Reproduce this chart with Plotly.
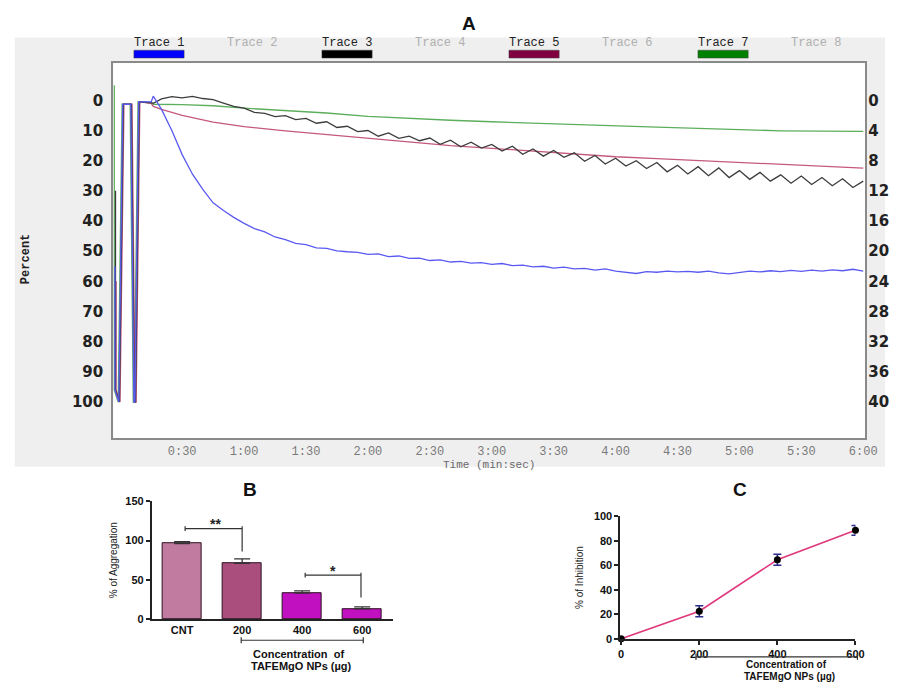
import plotly.graph_objects as go

W, H = 897, 688


def px(x):
    return x / W


def py(y):
    return 1 - y / H


# ---------------- Panel A data ----------------
time_ticks = [30, 60, 90, 120, 150, 180, 210, 240, 270, 300, 330, 360]
time_labels = ["0:30", "1:00", "1:30", "2:00", "2:30", "3:00", "3:30", "4:00",
               "4:30", "5:00", "5:30", "6:00"]
pct_ticks = [0, 10, 20, 30, 40, 50, 60, 70, 80, 90, 100]
right_ticks = [0, 4, 8, 12, 16, 20, 24, 28, 32, 36, 40]
legend_names = ["Trace 1", "Trace 2", "Trace 3", "Trace 4",
                "Trace 5", "Trace 6", "Trace 7", "Trace 8"]
legend_active = [True, False, True, False, True, False, True, False]

# initial calibration spikes (seconds, percent)
blue_spike_t = [-2.6, -2.6, -0.7, 1.2, 5.1, 6.6, 7.1, 8.9, 15.0]
blue_spike_v = [55, 96, 100, 1.3, 1.3, 100, 100, 0.5, 0.5]
black_spike_t = [-2.3, -2.3, -0.4, 1.5, 5.4, 6.9, 7.4, 9.2, 15.0]
black_spike_v = [30, 96, 100, 1.3, 1.3, 100, 100, 0.5, 0.8]
maroon_spike_t = [-2.0, -2.0, -0.1, 1.8, 5.7, 7.2, 7.7, 9.5, 15.0]
maroon_spike_v = [60, 96, 100, 1.3, 1.3, 100, 100, 0.5, 1.0]
green_spike_t = [-2.9, -2.9, -1.0, 0.9, 4.8, 6.3, 6.8, 8.6, 15.0]
green_spike_v = [-5, 96, 100, 1.3, 1.3, 100, 100, 0.5, 0.8]

trace_t = [16, 20, 25, 30, 35, 40, 45, 50, 55, 60, 65, 70, 75, 80, 85, 90, 95,
           100, 105, 110, 115, 120, 125, 130, 135, 140, 145, 150, 155, 160,
           165, 170, 175, 180, 185, 190, 195, 200, 205, 210, 215, 220, 225,
           230, 235, 240, 245, 250, 255, 260, 265, 270, 275, 280, 285, 290,
           295, 300, 305, 310, 315, 320, 325, 330, 335, 340, 345, 350, 355, 360]
blue_v = [-1.4, 3, 10, 18, 24.5, 29.5, 34, 36.5, 38.8, 40.8, 42.5, 43.6, 45.3,
          46.2, 47.4, 47.8, 48.9, 49.1, 49.9, 50.2, 50.4, 51.1, 50.9, 51.8,
          51.6, 52.4, 52.3, 53.1, 52.9, 53.6, 53.4, 54.0, 53.8, 54.4, 54.1,
          54.8, 54.6, 55.2, 55.0, 55.6, 55.3, 55.9, 55.7, 56.3, 55.9, 56.6,
          57.1, 57.4, 56.8, 57.0, 56.6, 56.9, 56.7, 57.0, 56.6, 57.2, 57.5,
          57.0, 56.6, 56.9, 56.5, 56.8, 56.4, 56.7, 56.3, 56.6, 56.2, 56.5,
          56.0, 56.6]
black_v = [1.0, -0.5, -1.2, -0.8, -1.3, -0.6, -0.2, 0.9, 2.0, 2.6, 4.0, 4.3,
           5.4, 5.1, 6.4, 6.0, 7.6, 7.1, 9.0, 8.6, 10.4, 10.0, 11.9, 10.8,
           12.6, 11.9, 13.4, 12.5, 14.6, 13.2, 15.4, 13.9, 15.8, 14.6, 16.8,
           15.2, 17.9, 16.1, 18.5, 16.6, 18.9, 17.4, 20.2, 18.3, 21.1, 19.2,
           21.8, 20.0, 22.6, 20.6, 23.7, 21.5, 24.4, 22.0, 25.0, 22.4, 25.6,
           23.3, 26.2, 23.9, 26.8, 24.7, 27.5, 25.1, 27.9, 25.6, 28.3, 26.0,
           28.9, 26.8]
maroon_t = [16, 20, 30, 45, 60, 80, 100, 120, 140, 160, 180, 200, 220, 240,
            260, 280, 300, 320, 340, 360]
maroon_v = [2.0, 3.0, 5.0, 7.2, 8.7, 10.1, 11.3, 12.6, 13.9, 15.0, 15.9, 16.9,
            17.8, 18.7, 19.3, 19.9, 20.6, 21.1, 21.7, 22.5]
green_t = [16, 30, 45, 60, 80, 100, 120, 140, 160, 180, 200, 220, 240, 260,
           280, 300, 320, 340, 360]
green_v = [1.3, 1.4, 1.8, 2.6, 3.4, 4.2, 5.3, 6.0, 6.6, 7.1, 7.6, 8.1, 8.6,
           8.9, 9.3, 9.8, 10.1, 10.2, 10.3]

# ---------------- Panel B data ----------------
b_categories = ["CNT", "200", "400", "600"]
b_values = [96, 71, 33, 13]
b_errors = [2.5, 5.7, 3, 2.5]
b_colors = ["#c27ba0", "#aa4f7d", "#c010c0", "#c010c0"]
b_ticks = [0, 50, 100, 150]

# ---------------- Panel C data ----------------
c_conc = [0, 200, 400, 600]
c_inhib = [0, 22.5, 64.5, 88.5]
c_errors = [0, 4.5, 4.5, 4]
c_ticks = [0, 20, 40, 60, 80, 100]

fig = go.Figure()

LW = 1.3
fig.add_trace(go.Scatter(x=green_spike_t + green_t, y=green_spike_v + green_v,
                         mode="lines", line=dict(color="#5cae5c", width=LW),
                         xaxis="x", yaxis="y", showlegend=False))
fig.add_trace(go.Scatter(x=maroon_spike_t + maroon_t, y=maroon_spike_v + maroon_v,
                         mode="lines", line=dict(color="#c4587e", width=LW),
                         xaxis="x", yaxis="y", showlegend=False))
fig.add_trace(go.Scatter(x=black_spike_t + trace_t, y=black_spike_v + black_v,
                         mode="lines", line=dict(color="#3c3c3c", width=LW),
                         xaxis="x", yaxis="y", showlegend=False))
fig.add_trace(go.Scatter(x=blue_spike_t + trace_t, y=blue_spike_v + blue_v,
                         mode="lines", line=dict(color="#5a5af2", width=LW),
                         xaxis="x", yaxis="y", showlegend=False))
# anchor trace for the right-hand axis
fig.add_trace(go.Scatter(x=[None], y=[None], mode="lines", xaxis="x", yaxis="y4",
                         showlegend=False, hoverinfo="skip"))

# Panel B bars
fig.add_trace(go.Bar(x=list(range(len(b_categories))), y=b_values, width=0.66,
                     marker=dict(color=b_colors, line=dict(color="#2a1020", width=1)),
                     error_y=dict(type="data", array=b_errors,
                                  arrayminus=[0] * len(b_errors), symmetric=False,
                                  color="#333333", thickness=1.3, width=8),
                     xaxis="x2", yaxis="y2", showlegend=False))

# Panel C line
fig.add_trace(go.Scatter(x=c_conc, y=c_inhib, mode="lines+markers",
                         line=dict(color="#e0387c", width=1.6),
                         marker=dict(color="black", size=7, symbol="circle"),
                         error_y=dict(type="data", array=c_errors, color="#2b2b8c",
                                      thickness=1.6, width=4),
                         cliponaxis=False, xaxis="x3", yaxis="y3", showlegend=False))

shapes = []
# grey instrument panel
shapes.append(dict(type="rect", xref="paper", yref="paper", x0=px(13), x1=px(897),
                   y0=py(469), y1=py(32), fillcolor="#efefef", line=dict(width=0),
                   layer="below"))
shapes.append(dict(type="rect", xref="paper", yref="paper", x0=px(113), x1=px(877),
                   y0=py(440), y1=py(58), fillcolor="white", line=dict(width=0),
                   layer="below"))
# legend swatches
legend_colors = ["#0000ff", None, "#000000", None, "#800040", None, "#008000", None]
legend_x = [134, 229, 325, 420, 515, 610, 707, 802]
for lx, col in zip(legend_x, legend_colors):
    if col:
        shapes.append(dict(type="rect", xref="paper", yref="paper", x0=px(lx),
                           x1=px(lx + 51), y0=py(53), y1=py(45), fillcolor=col,
                           line=dict(color="#444", width=0.5)))


# significance brackets for B
def bracket_b(x0, x1, yl, ytick_lo, ytick_hi, ydrop):
    s = []
    s.append(dict(type="line", xref="x2", yref="y2", x0=x0, x1=x1, y0=yl, y1=yl,
                  line=dict(color="#333", width=1.2)))
    s.append(dict(type="line", xref="x2", yref="y2", x0=x0, x1=x0, y0=ytick_lo,
                  y1=ytick_hi, line=dict(color="#333", width=1.2)))
    s.append(dict(type="line", xref="x2", yref="y2", x0=x1, x1=x1, y0=ytick_hi,
                  y1=ydrop, line=dict(color="#333", width=1.2)))
    return s


shapes += bracket_b(0.05, 1.0, 115, 112, 118, 86)
shapes += bracket_b(2.05, 2.98, 56, 53, 59, 27.5)


# concentration range brackets (paper pixel coords)
def hbracket(x0, x1, y):
    s = [dict(type="line", xref="paper", yref="paper", x0=px(x0), x1=px(x1),
              y0=py(y), y1=py(y), line=dict(color="#333", width=1.2))]
    for xx in (x0, x1):
        s.append(dict(type="line", xref="paper", yref="paper", x0=px(xx), x1=px(xx),
                      y0=py(y - 3), y1=py(y + 3), line=dict(color="#333", width=1.2)))
    return s


shapes += hbracket(243, 367, 645.5)
shapes += hbracket(705, 869, 662.5)

ann = []


def text(x, y, t, size, color="#111", family="Liberation Sans", weight="bold",
         angle=0, xanchor="center"):
    ann.append(dict(x=px(x), y=py(y), xref="paper", yref="paper", text=t,
                    showarrow=False, xanchor=xanchor, yanchor="middle",
                    textangle=angle,
                    font=dict(size=size, color=color, family=family, weight=weight)))


text(474, 18, "A", 19)
text(252, 492, "B", 19)
text(750, 492, "C", 19)
for lx, name, act in zip(legend_x, legend_names, legend_active):
    text(lx + 25, 38, name, 12, color="#222" if act else "#b0b0b0",
         family="Liberation Mono", weight="normal")
text(24, 258, "Percent", 12, color="#222", family="Liberation Mono", angle=-90)
text(495, 467, "Time (min:sec)", 11, color="#6a6a6a", family="Liberation Mono",
     weight="normal")
# stars
ann.append(dict(x=0.55, y=121, xref="x2", yref="y2", text="**", showarrow=False,
                font=dict(size=14, color="#222", family="Liberation Sans", weight="bold")))
ann.append(dict(x=2.52, y=61, xref="x2", yref="y2", text="*", showarrow=False,
                font=dict(size=14, color="#222", family="Liberation Sans", weight="bold")))
text(301, 659, "Concentration  of", 11)
text(304, 672, "TAFEMgO NPs (µg)", 11)
text(797, 670, "Concentration of", 10)
text(800, 682, "TAFEMgO NPs (µg)", 10)

axis_bold = dict(family="Liberation Sans", size=11, color="#111", weight="bold")

fig.update_layout(
    width=W, height=H, margin=dict(l=0, r=0, t=0, b=0),
    paper_bgcolor="white", plot_bgcolor="rgba(0,0,0,0)",
    shapes=shapes, annotations=ann, bargap=0,
    xaxis=dict(domain=[px(113), px(877)], range=[-3.4, 361], anchor="y",
               tickvals=time_ticks, ticktext=time_labels, ticks="",
               showgrid=False, zeroline=False, showline=True, mirror=True,
               linecolor="#8a8a8a", linewidth=2, ticklabelstandoff=0,
               tickfont=dict(family="Liberation Mono", size=12, color="#7a7a7a")),
    yaxis=dict(domain=[py(440), py(58)], range=[112.05, -12.38], anchor="x",
               tickvals=pct_ticks, ticks="", showgrid=False, zeroline=False,
               showline=True, mirror=True, linecolor="#8a8a8a", linewidth=2,
               ticklabelstandoff=5,
               tickfont=dict(family="DejaVu Sans", size=15, color="#222",
                             weight="bold")),
    yaxis4=dict(overlaying="y", side="right", anchor="x",
                range=[112.05 * 0.4, -12.38 * 0.4], tickvals=right_ticks,
                ticks="", showgrid=False, zeroline=False, showline=False,
                ticklabelstandoff=2,
                tickfont=dict(family="DejaVu Sans", size=15, color="#222",
                              weight="bold")),
    xaxis2=dict(domain=[px(152), px(397)], range=[-0.508, 3.51], anchor="y2",
                tickvals=[0, 1, 2, 3], ticktext=b_categories, ticks="",
                showgrid=False, zeroline=False, showline=True, linecolor="#222",
                linewidth=1.5, tickfont=axis_bold),
    yaxis2=dict(domain=[py(624), py(504)], range=[0, 150], anchor="x2",
                tickvals=b_ticks, ticks="outside", ticklen=4, tickwidth=1.5,
                tickcolor="#222", showgrid=False, zeroline=False, showline=True,
                linecolor="#222", linewidth=1.5, tickfont=axis_bold,
                title=dict(text="% of Aggregation", standoff=6,
                           font=dict(family="Liberation Sans", size=10, color="#222"))),
    xaxis3=dict(domain=[px(628), px(867)], range=[-2.5, 600], anchor="y3",
                tickvals=c_conc, ticks="outside", ticklen=4, tickwidth=1.5,
                tickcolor="#222", showgrid=False, zeroline=False, showline=True,
                linecolor="#222", linewidth=1.5, tickfont=axis_bold),
    yaxis3=dict(domain=[py(644), py(519.3)], range=[0, 100], anchor="x3",
                tickvals=c_ticks, ticks="outside", ticklen=4, tickwidth=1.5,
                tickcolor="#222", showgrid=False, zeroline=False, showline=True,
                linecolor="#222", linewidth=1.5, tickfont=axis_bold,
                title=dict(text="% of Inhibition", standoff=8,
                           font=dict(family="Liberation Sans Narrow, Liberation Sans",
                                     size=10, color="#222"))),
)

# remove the default page margin so the 897x688 figure fills the window exactly
post = (
    "document.body.style.margin='0';"
    "document.body.style.overflow='hidden';"
)

fig.write_html("out.html", config={"displayModeBar": False}, post_script=post)
